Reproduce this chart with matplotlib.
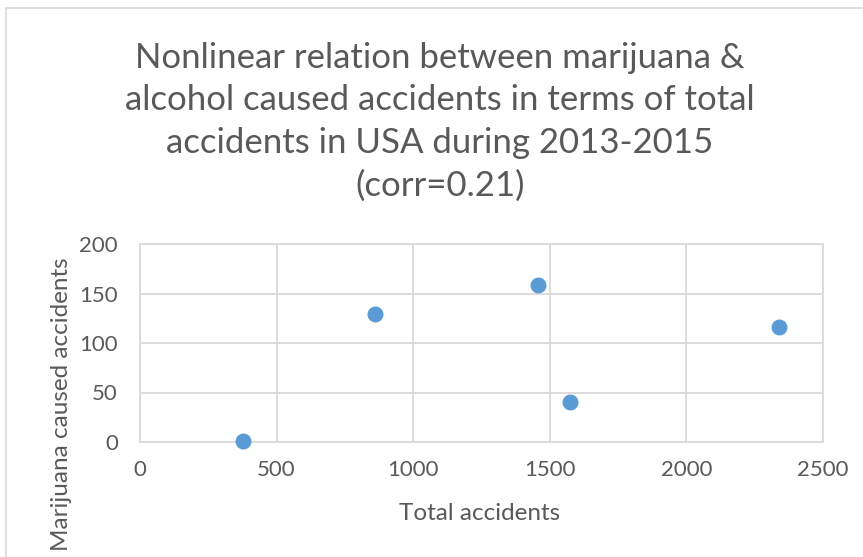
import matplotlib.pyplot as plt
from matplotlib.patches import Rectangle

# total accidents vs marijuana caused accidents per year
total_accidents = [377, 860, 1457, 1574, 2339]
marijuana_accidents = [1, 129, 159, 40, 116]

x_ticks = [0, 500, 1000, 1500, 2000, 2500]
y_ticks = [0, 50, 100, 150, 200]

title = ('Nonlinear relation between marijuana &\n'
         'alcohol caused accidents in terms of total\n'
         'accidents in USA during 2013-2015\n'
         '(corr=0.21)')

plt.rcParams['font.family'] = ['Lato', 'DejaVu Sans']
text_color = '#595959'
grid_color = '#d9d9d9'

W, H = 863, 557
fig = plt.figure(figsize=(W / 100, H / 100), dpi=100)

# outer chart frame
fig.patches.append(Rectangle((6 / W, -0.1), 1.2, (H - 8) / H + 0.1,
                             transform=fig.transFigure, fill=False,
                             edgecolor=grid_color, linewidth=1.2))

ax = fig.add_axes([140 / W, 1 - 442 / H, (823 - 140) / W, (442 - 244) / H])
ax.scatter(total_accidents, marijuana_accidents, s=110, color='#5b9bd5',
           zorder=3, clip_on=False)

ax.set_xlim(0, 2500)
ax.set_ylim(0, 200)
ax.set_xticks(x_ticks)
ax.set_yticks(y_ticks)
ax.grid(True, color=grid_color, linewidth=1.3)
ax.set_axisbelow(True)
for side in ax.spines.values():
    side.set_color(grid_color)
    side.set_linewidth(1.3)
ax.tick_params(length=0, colors=text_color, labelsize=16)
ax.tick_params(axis='x', pad=13)
ax.tick_params(axis='y', pad=16)

fig.text(440 / W, 1 - 42 / H, title, ha='center', va='top', fontsize=25,
         color=text_color, linespacing=1.4)
fig.text(480 / W, 1 - 513 / H, 'Total accidents', ha='center', va='center',
         fontsize=17.5, color=text_color)
fig.text(62 / W, 1 - 404 / H, 'Marijuana caused accidents', ha='center',
         va='center', rotation=90, fontsize=17.5, color=text_color)

fig.savefig('out.png', dpi=100)
